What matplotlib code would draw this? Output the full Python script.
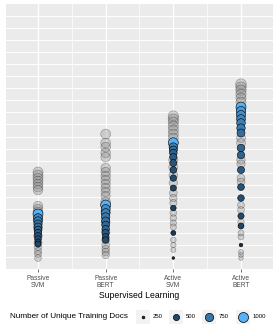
import numpy as np
import matplotlib.pyplot as plt
import matplotlib.colors as mcolors

plt.rcParams['font.family'] = ['Liberation Sans', 'DejaVu Sans']

# --- categories ---
categories = ['Passive\nSVM', 'Passive\nBERT', 'Active\nSVM', 'Active\nBERT']

# --- coloured points (y value, unique training docs) per category ---
col_y = [
    [4.56, 4.23, 3.98, 3.73, 3.49, 3.24, 2.99, 2.74, 2.49, 2.24, 2.07],
    [5.31, 4.98, 4.65, 4.32, 3.98, 3.65, 3.32, 2.99, 2.66, 2.41],
    [10.48, 10.12, 9.88, 9.63, 9.29, 8.80, 8.22, 7.55, 6.72, 5.06, 2.99, 0.91],
    [13.44, 13.11, 12.78, 12.45, 12.12, 11.70, 11.29, 10.04, 9.46, 8.22, 6.80,
     5.89, 4.40, 3.57, 1.99],
]
col_docs = [
    [1000, 820, 780, 740, 700, 660, 620, 580, 540, 510, 480],
    [1000, 840, 800, 760, 720, 680, 640, 600, 560, 520],
    [1000, 780, 700, 650, 610, 580, 550, 520, 490, 450, 390, 250],
    [1000, 900, 860, 820, 790, 760, 700, 660, 640, 600, 560, 540, 500, 480, 300],
]

# --- grey points (y value, unique training docs) per category ---
grey_y = [
    [8.05, 7.80, 7.55, 7.30, 7.05, 6.80, 6.56, 5.23, 4.98, 4.73, 4.07, 3.40,
     2.74, 2.16, 1.83, 1.49, 1.24, 0.91],
    [11.20, 10.46, 10.12, 9.63, 9.29, 8.38, 8.05, 7.72, 7.39, 7.05, 6.72, 6.39,
     6.06, 5.56, 4.73, 3.90, 3.07, 2.41, 1.99, 1.66, 1.41, 1.16],
    [12.70, 12.45, 12.20, 11.87, 11.54, 11.20, 10.87, 9.05, 8.46, 7.80, 7.14,
     6.31, 5.89, 5.48, 4.65, 4.23, 3.82, 3.49, 2.41, 1.99, 1.58],
    [15.35, 15.10, 14.85, 14.52, 14.19, 13.86, 10.87, 10.46, 9.05, 8.71, 7.55,
     7.22, 5.31, 4.90, 3.90, 2.99, 2.66, 1.41, 1.16, 0.91],
]
grey_docs = [
    [1000, 1000, 980, 960, 950, 940, 920, 900, 880, 950, 920, 850, 780, 700,
     650, 600, 580, 560],
    [980, 960, 950, 940, 930, 920, 910, 900, 890, 880, 870, 860, 850, 950, 900,
     820, 760, 700, 680, 660, 640, 620],
    [1050, 1040, 1030, 1020, 1010, 1000, 990, 880, 850, 800, 760, 680, 640, 610,
     560, 540, 520, 500, 450, 430, 400],
    [1100, 1080, 1060, 1040, 1020, 1000, 840, 820, 770, 750, 690, 680, 580, 570,
     520, 480, 470, 400, 380, 360],
]

legend_docs = [250, 500, 750, 1000]
legend_title = 'Number of Unique Training Docs'
x_title = 'Supervised Learning'

# --- scales (ggplot-like) ---
DPI = 100
low_c = np.array(mcolors.to_rgb('#132B43'))
high_c = np.array(mcolors.to_rgb('#56B1F7'))

def fill_for(v):
    t = np.clip((np.asarray(v, float) - 250) / 750, 0, 1) ** 1.4
    return low_c[None, :] + t[:, None] * (high_c - low_c)[None, :]

def size_for(v):
    v = np.asarray(v, float)
    d_px = np.sqrt(np.clip(7.3 + (v - 250) * 0.1236, 7.3, None))
    return (d_px * 72 / DPI) ** 2

fig = plt.figure(figsize=(2.77, 3.32), dpi=DPI)
ax = fig.add_axes([6 / 277, 1 - 269 / 332, 267 / 277, 265 / 332])
ax.set_facecolor('#EBEBEB')
for s in ax.spines.values():
    s.set_visible(False)

ax.set_xlim(0.527, 4.473)
ax.set_ylim(0, 22)
for gy in range(1, 22):
    ax.axhline(gy, color='white', lw=0.7, zorder=0)
for gx in [1, 1.5, 2, 2.5, 3, 3.5, 4]:
    ax.axvline(gx, color='white', lw=0.9 if gx % 1 == 0 else 0.5, zorder=0)

for i in range(len(categories)):
    xg = np.full(len(grey_y[i]), i + 1.0)
    ax.scatter(xg, grey_y[i], s=size_for(grey_docs[i]),
               facecolor=(0.5, 0.5, 0.5, 0.3), edgecolor=(0, 0, 0, 0.3),
               linewidth=0.5, zorder=2)
    xc = np.full(len(col_y[i]), i + 1.0)
    ax.scatter(xc, col_y[i], s=size_for(col_docs[i]),
               c=fill_for(col_docs[i]), edgecolor='black',
               linewidth=0.4, zorder=3)

ax.set_xticks(range(1, len(categories) + 1))
ax.set_xticklabels(categories, fontsize=4.8, color='#4D4D4D', linespacing=1.0)
ax.set_yticks([])
ax.tick_params(axis='x', length=2, width=0.5, color='#333333', pad=2)
ax.set_xlabel(x_title, fontsize=6.2, labelpad=1.5)

# --- legend ---
fig.text(10 / 277, 1 - 316.5 / 332, legend_title, fontsize=5.9,
         va='center', ha='left')
lax = fig.add_axes([0, 0, 1, 1], facecolor='none')
lax.set_xlim(0, 277)
lax.set_ylim(332, 0)
lax.axis('off')
key_x = [142.7, 175.7, 209.0, 242.7]
for kx, v in zip(key_x, legend_docs):
    lax.add_patch(plt.Rectangle((kx - 7, 316.5 - 7), 14, 14,
                                facecolor='#F2F2F2', edgecolor='none'))
    lax.scatter([kx], [316.5], s=size_for([v]), c=fill_for([v]),
                edgecolor='black', linewidth=0.5, zorder=3)
    lax.text(kx + 10, 316.5, str(v), fontsize=4.3, va='center', ha='left')

fig.savefig('out.png', dpi=DPI)
